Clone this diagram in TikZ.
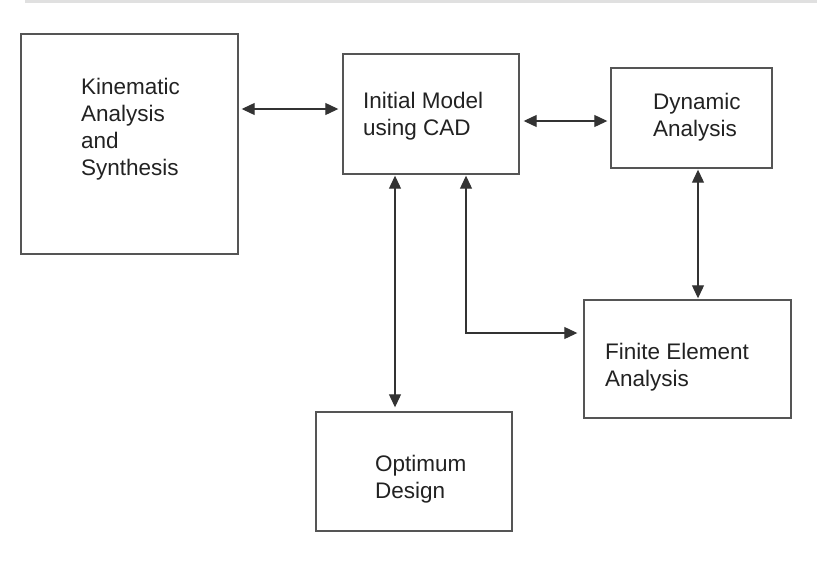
\documentclass[tikz,border=0pt]{standalone}
\usepackage{fontspec}
\setmainfont{Liberation Sans}
\usetikzlibrary{arrows.meta}
\definecolor{boxline}{HTML}{555555}
\definecolor{txt}{HTML}{222222}
\begin{document}
\begin{tikzpicture}[x=1pt,y=-1pt,
  blk/.style={draw=boxline,line width=1.4pt,fill=white,inner sep=0pt},
  lbl/.style={anchor=west,align=left,text=txt,font=\fontsize{22.5}{27}\selectfont,inner sep=0pt},
  tip/.tip={Triangle[length=13pt,width=12pt]},
  conn/.style={draw=black!80,line width=1.1pt,tip-tip}]
\useasboundingbox (0,0) rectangle (817,562);
\fill[black!12] (25,0) rectangle (817,3);
% boxes
\node[blk,minimum width=217pt,minimum height=220pt] (kin) at (129.5,144) {};
\node[blk,minimum width=176pt,minimum height=120pt] (init) at (431,114) {};
\node[blk,minimum width=161pt,minimum height=100pt] (dyn) at (691.5,118) {};
\node[blk,minimum width=207pt,minimum height=118pt] (fea) at (687.5,359) {};
\node[blk,minimum width=196pt,minimum height=119pt] (opt) at (414,471.5) {};
% labels
\node[lbl] (kint) at (81,129) {Kinematic\\Analysis\\and\\Synthesis};
\node[lbl] (initt) at (363,116) {Initial Model\\using CAD};
\node[lbl] (dynt) at (653,117) {Dynamic\\Analysis};
\node[lbl] (feat) at (605,367) {Finite Element\\Analysis};
\node[lbl] (optt) at (375,479) {Optimum\\Design};
% connectors
\draw[conn,shorten <=3pt,shorten >=4pt] (kin.east |- 0,109) -- (init.west |- 0,109);
\draw[conn,shorten <=4pt,shorten >=3pt] (init.east |- 0,121) -- (dyn.west |- 0,121);
\draw[conn,shorten <=1pt,shorten >=4pt] (init.south -| 395,0) -- (opt.north -| 395,0);
\draw[conn,shorten <=1pt,shorten >=1pt] (dyn.south -| 698,0) -- (fea.north -| 698,0);
\coordinate (bend) at (466,333);
\draw[conn,shorten <=1pt,shorten >=6pt] (init.south -| bend) -- (bend) -- (fea.west |- bend);
\end{tikzpicture}
\end{document}
